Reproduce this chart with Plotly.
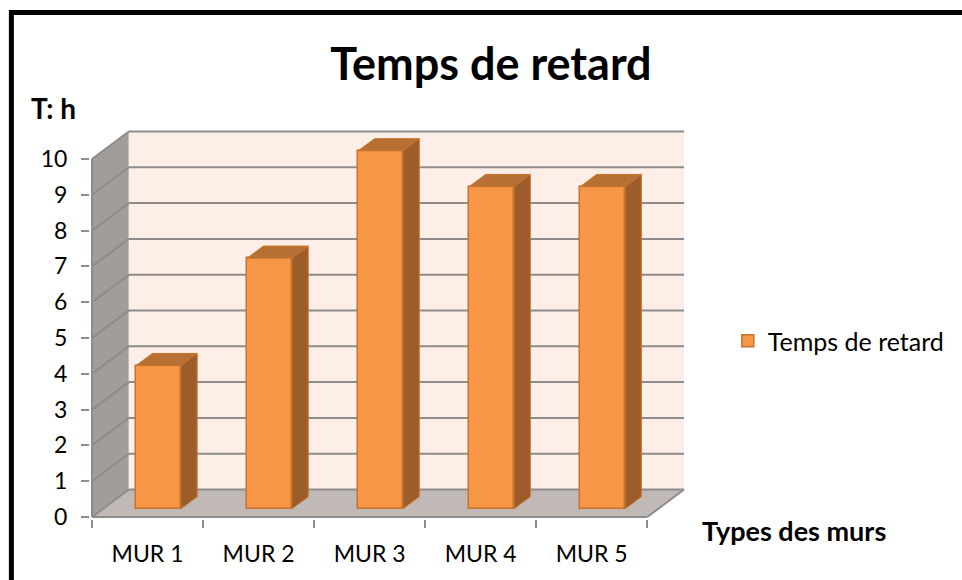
import plotly.graph_objects as go

# ---- data -------------------------------------------------------------
categories = ["MUR 1", "MUR 2", "MUR 3", "MUR 4", "MUR 5"]
retard_h = [4, 7, 10, 9, 9]
y_ticks = list(range(0, 11))
series_name = "Temps de retard"
chart_title = "Temps de retard"
y_title = "T: h"
x_title = "Types des murs"

# ---- canvas / scales --------------------------------------------------
W, H = 962, 580
ML, MR, MT, MB = 90, 262, 120, 61
PW, PH = W - ML - MR, H - MT - MB
PX_X, PX_Y = 111.6, 35.8            # pixels per category / per hour
X0 = -0.5 - (92 - ML) / PX_X
Y0 = -(H - MB - 517) / PX_Y
X1, Y1 = X0 + PW / PX_X, Y0 + PH / PX_Y

# oblique depth vector (full depth of the box), in data units
DX, DY = 37 / PX_X, 27.5 / PX_Y
YMAX = y_ticks[-1]
XL, XR = -0.5, len(categories) - 0.5

# bar geometry (front-face depth, bar depth, width)
Z_FRONT, Z_DEPTH, BAR_W = 0.3, 0.44, 0.403

FONT = "Lato"
GRID = "#8c8c8c"
ORANGE = "#f79646"
ORANGE_EDGE = "#c8732c"
TOP_COL = "#b86f34"
SIDE_COL = "#9c5d2a"


def paper_x(p):
    return (p - ML) / PW


def paper_y(p):
    return (H - MB - p) / PH


def poly(pts):
    return "M " + " L ".join(f"{x},{y}" for x, y in pts) + " Z"


shapes = []
# floor, side wall and back wall of the 3D box
shapes.append(dict(type="path", xref="x", yref="y", layer="below",
                   path=poly([(XL, 0), (XR, 0), (XR + DX, DY), (XL + DX, DY)]),
                   fillcolor="#c1b9b5", line=dict(width=0)))
shapes.append(dict(type="path", xref="x", yref="y", layer="below",
                   path=poly([(XL, 0), (XL + DX, DY), (XL + DX, YMAX + DY), (XL, YMAX)]),
                   fillcolor="#a39d99", line=dict(width=0)))
shapes.append(dict(type="rect", xref="x", yref="y", layer="below",
                   x0=XL + DX, x1=XR + DX, y0=DY, y1=YMAX + DY,
                   fillcolor="#fdeee7", line=dict(width=0)))
# gridlines on the back wall and the side wall
for v in y_ticks:
    shapes.append(dict(type="line", xref="x", yref="y", layer="below",
                       x0=XL + DX, x1=XR + DX, y0=v + DY, y1=v + DY,
                       line=dict(color=GRID, width=2)))
    shapes.append(dict(type="line", xref="x", yref="y", layer="below",
                       x0=XL, x1=XL + DX, y0=v, y1=v + DY,
                       line=dict(color=GRID, width=2)))
# front axis edges
shapes.append(dict(type="line", xref="x", yref="y", layer="below",
                   x0=XL, x1=XL, y0=0, y1=YMAX, line=dict(color=GRID, width=2)))
shapes.append(dict(type="line", xref="x", yref="y", layer="below",
                   x0=XL, x1=XR, y0=0, y1=0, line=dict(color=GRID, width=2)))
shapes.append(dict(type="line", xref="x", yref="y", layer="below",
                   x0=XR, x1=XR + DX, y0=0, y1=DY, line=dict(color=GRID, width=2)))
# outer chart frame
shapes.append(dict(type="rect", xref="paper", yref="paper", layer="above",
                   x0=paper_x(11), x1=paper_x(975), y0=paper_y(12.5), y1=paper_y(595),
                   line=dict(color="black", width=5), fillcolor="rgba(0,0,0,0)"))

fig = go.Figure()

# front faces of the columns
xs_front = [i + Z_FRONT * DX for i in range(len(categories))]
fig.add_trace(go.Bar(
    x=xs_front, y=retard_h, base=[Z_FRONT * DY] * len(retard_h), width=BAR_W,
    name=series_name, marker=dict(color=ORANGE, line=dict(color=ORANGE_EDGE, width=1.5)),
    showlegend=True, hoverinfo="skip",
))

# top and side faces of the columns
top_x, top_y, side_x, side_y = [], [], [], []
for xc, v in zip(xs_front, retard_h):
    xl, xr = xc - BAR_W / 2, xc + BAR_W / 2
    yb = Z_FRONT * DY
    yt = yb + v
    ddx, ddy = Z_DEPTH * DX, Z_DEPTH * DY
    top_x += [xl, xr, xr + ddx, xl + ddx, xl, None]
    top_y += [yt, yt, yt + ddy, yt + ddy, yt, None]
    side_x += [xr, xr + ddx, xr + ddx, xr, xr, None]
    side_y += [yb, yb + ddy, yt + ddy, yt, yb, None]

fig.add_trace(go.Scatter(x=side_x, y=side_y, mode="lines", fill="toself",
                         fillcolor=SIDE_COL, line=dict(color=ORANGE_EDGE, width=1),
                         showlegend=False, hoverinfo="skip"))
fig.add_trace(go.Scatter(x=top_x, y=top_y, mode="lines", fill="toself",
                         fillcolor=TOP_COL, line=dict(color=ORANGE_EDGE, width=1),
                         showlegend=False, hoverinfo="skip"))

annotations = [
    dict(text=f"<b>{y_title}</b>", xref="paper", yref="paper",
         x=paper_x(29), y=paper_y(108), xanchor="left", yanchor="middle",
         showarrow=False, font=dict(family=FONT, size=28, color="black")),
    dict(text=f"<b>{x_title}</b>", xref="paper", yref="paper",
         x=paper_x(797), y=paper_y(530), xanchor="center", yanchor="middle",
         showarrow=False, font=dict(family=FONT, size=27, color="black")),
]

fig.update_layout(
    width=W, height=H, autosize=False,
    margin=dict(l=ML, r=MR, t=MT, b=MB, pad=0),
    paper_bgcolor="white", plot_bgcolor="white",
    title=dict(text=f"<b>{chart_title}</b>", xref="container", yref="container",
               x=491 / W, y=1 - 64 / H, xanchor="center", yanchor="middle",
               font=dict(family=FONT, size=45, color="black")),
    showlegend=True,
    legend=dict(x=paper_x(731), y=paper_y(341), xanchor="left", yanchor="middle",
                font=dict(family=FONT, size=25, color="black"),
                bgcolor="rgba(0,0,0,0)", borderwidth=0),
    shapes=shapes, annotations=annotations,
    bargap=0,
)
fig.update_xaxes(
    range=[X0, X1], showgrid=False, zeroline=False, showline=False,
    tickmode="array", tickvals=list(range(len(categories))), ticktext=categories,
    ticks="", ticklabelstandoff=19,
    tickfont=dict(family=FONT, size=23, color="black"),
    minor=dict(tickmode="array", tickvals=[i - 0.5 for i in range(len(categories) + 1)],
               ticks="outside", ticklen=8, tickwidth=2, tickcolor=GRID, showgrid=False),
    fixedrange=True,
)
fig.update_yaxes(
    range=[Y0, Y1], showgrid=False, zeroline=False, showline=False,
    tickmode="array", tickvals=y_ticks, ticks="outside", ticklen=8, tickwidth=2,
    tickcolor=GRID, ticklabelstandoff=9,
    tickfont=dict(family=FONT, size=23, color="black"),
    fixedrange=True,
)

fig.write_html("out.html")
